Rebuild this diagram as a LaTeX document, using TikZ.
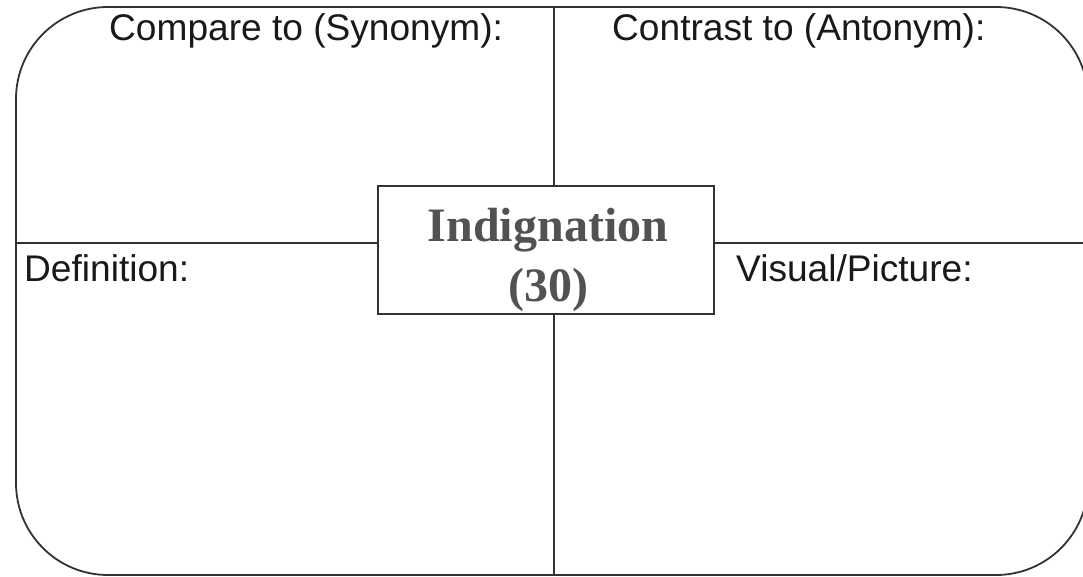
\documentclass[tikz,border=0pt]{standalone}
\usepackage{fontspec}
\setmainfont{Liberation Sans}
\newfontfamily\wordfont{Liberation Serif}
\begin{document}
\begin{tikzpicture}[x=1pt,y=-1pt,
  rule/.style={draw=black!80, line width=1.8pt},
  caption/.style={anchor=base west, inner sep=0pt, font=\fontsize{37.1}{40}\selectfont, text=black!90},
  wordtext/.style={anchor=base, inner sep=0pt, font=\wordfont\bfseries\fontsize{48}{54}\selectfont, text=black!68},
  wordbox/.style={rule, rectangle, minimum width=336pt, minimum height=128pt, inner sep=0pt}]
  \useasboundingbox (0,0) rectangle (1083,577);
  % outer frame
  \draw[rule, rounded corners=92pt] (16,7) rectangle (1088,575);
  % frame points where the dividing rules meet it
  \coordinate (ftop) at (554,7);
  \coordinate (fbot) at (554,575);
  \coordinate (fleft) at (16,243);
  \coordinate (fright) at (1090,243);
  % central word box
  \node[wordbox] (word) at (546,250) {};
  \node[wordtext] (wname) at (548,242) {Indignation};
  \node[wordtext] (wnum) at (548,301) {(30)};
  % dividing rules
  \draw[rule] (ftop) -- (ftop |- word.north);
  \draw[rule] (fbot) -- (fbot |- word.south);
  \draw[rule] (fleft) -- (fleft -| word.west);
  \draw[rule] (fright) -- (fright -| word.east);
  % quadrant captions
  \node[caption] (syn) at (109,41) {Compare to (Synonym):};
  \node[caption] (ant) at (612,41) {Contrast to (Antonym):};
  \node[caption] (def) at (24,281) {Definition:};
  \node[caption] (vis) at (736,281) {Visual/Picture:};
\end{tikzpicture}
\end{document}
